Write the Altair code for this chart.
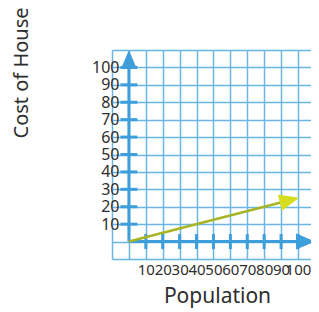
import altair as alt
import pandas as pd

# ---- data ----
grid_values = list(range(-10, 111, 10))
y_tick_values = [10, 20, 30, 40, 50, 60, 70, 80, 90, 100]
x_tick_values = [10, 20, 30, 40, 50, 60, 70, 80, 90, 100]
line_x = [0, 95]
line_y = [0, 23.75]
line_head_x = [95]
line_head_y = [23.75]
axis_x = [0, 0]
axis_y = [0, 0]
axis_x2 = [0, 104.5]
axis_y2 = [104.5, 0]
yarrow_x, yarrow_y = [0], [104.5]
xarrow_x, xarrow_y = [104.5], [0]

FONT = "Noto Sans"
TEXT = "#2e2e2e"
GRID = "#6ab6e6"
AXIS = "#3d9edb"

# the picture is cropped at its right edge: the x range stops short of 110
xscale = alt.Scale(domain=[-10, 107.7], nice=False, zero=False)
yscale = alt.Scale(domain=[-10, 110], nice=False, zero=False)

lab = "datum.value >= 10 && datum.value <= 100 ? datum.label : ''"
xaxis = alt.Axis(values=grid_values, grid=True, gridColor=GRID, gridWidth=1.5,
                 domain=False, ticks=False, labelExpr=lab, labelFont=FONT,
                 labelFontSize=15, labelColor=TEXT, labelPadding=3,
                 labelOverlap=False, labelFlush=False, labelBound=False,
                 title="Population", titleFont=FONT, titleFontSize=21,
                 titleFontWeight="normal", titleColor=TEXT, titlePadding=8,
                 titleX=105, titleAnchor="middle")
yaxis = alt.Axis(values=grid_values, grid=True, gridColor=GRID, gridWidth=1.5,
                 domain=False, ticks=False, labelExpr=lab, labelFont=FONT,
                 labelFontSize=16, labelColor=TEXT, labelPadding=1, offset=-8,
                 labelOverlap=False, labelFlush=False, labelBound=False,
                 title="Cost of House", titleFont=FONT, titleFontSize=20,
                 titleFontWeight="normal", titleColor=TEXT, titleAngle=270,
                 titleAlign="left", titleBaseline="alphabetic",
                 titleX=-93, titleY=88)


def X(f="x"):
    return alt.X(f"{f}:Q", scale=xscale, axis=xaxis)


def Y(f="y"):
    return alt.Y(f"{f}:Q", scale=yscale, axis=yaxis)


axes_df = pd.DataFrame({"x": axis_x, "y": axis_y, "x2": axis_x2, "y2": axis_y2})
axes = alt.Chart(axes_df).mark_rule(color=AXIS, strokeWidth=3).encode(
    x=X(), y=Y(), x2="x2:Q", y2="y2:Q")

yt = alt.Chart(pd.DataFrame({"x": [0] * len(y_tick_values), "y": y_tick_values})).mark_tick(
    orient="horizontal", size=17, thickness=3, color=AXIS, opacity=1).encode(x=X(), y=Y())
xt = alt.Chart(pd.DataFrame({"x": x_tick_values, "y": [0] * len(x_tick_values)})).mark_tick(
    orient="vertical", size=15, thickness=3, color=AXIS, opacity=1).encode(x=X(), y=Y())

up_shape = "M0,-1L-0.84,1L0.84,1Z"
right_shape = "M1,0L-1,-0.84L-1,0.84Z"

yarrow = alt.Chart(pd.DataFrame({"x": yarrow_x, "y": yarrow_y})).mark_point(
    shape=up_shape, size=361, filled=True, color=AXIS, opacity=1).encode(x=X(), y=Y())
xarrow = alt.Chart(pd.DataFrame({"x": xarrow_x, "y": xarrow_y})).mark_point(
    shape=right_shape, size=361, filled=True, color=AXIS, opacity=1).encode(x=X(), y=Y())

line = alt.Chart(pd.DataFrame({"x": line_x, "y": line_y})).mark_line(
    color="#a9b424", strokeWidth=2.5).encode(x=X(), y=Y())
head = alt.Chart(pd.DataFrame({"x": line_head_x, "y": line_head_y})).mark_point(
    shape=right_shape, size=400, filled=True, color="#d5de1e", opacity=1,
    angle=346).encode(x=X(), y=Y())

chart = alt.layer(axes, yt, xt, line, yarrow, xarrow, head).properties(
    width=199, height=209,
    autosize=alt.AutoSizeParams(type="none"),
    padding={"left": 104, "top": 42, "right": 0, "bottom": 50},
).configure_view(strokeWidth=0)

chart.save("out.html", embed_options={"renderer": "svg", "actions": False})
